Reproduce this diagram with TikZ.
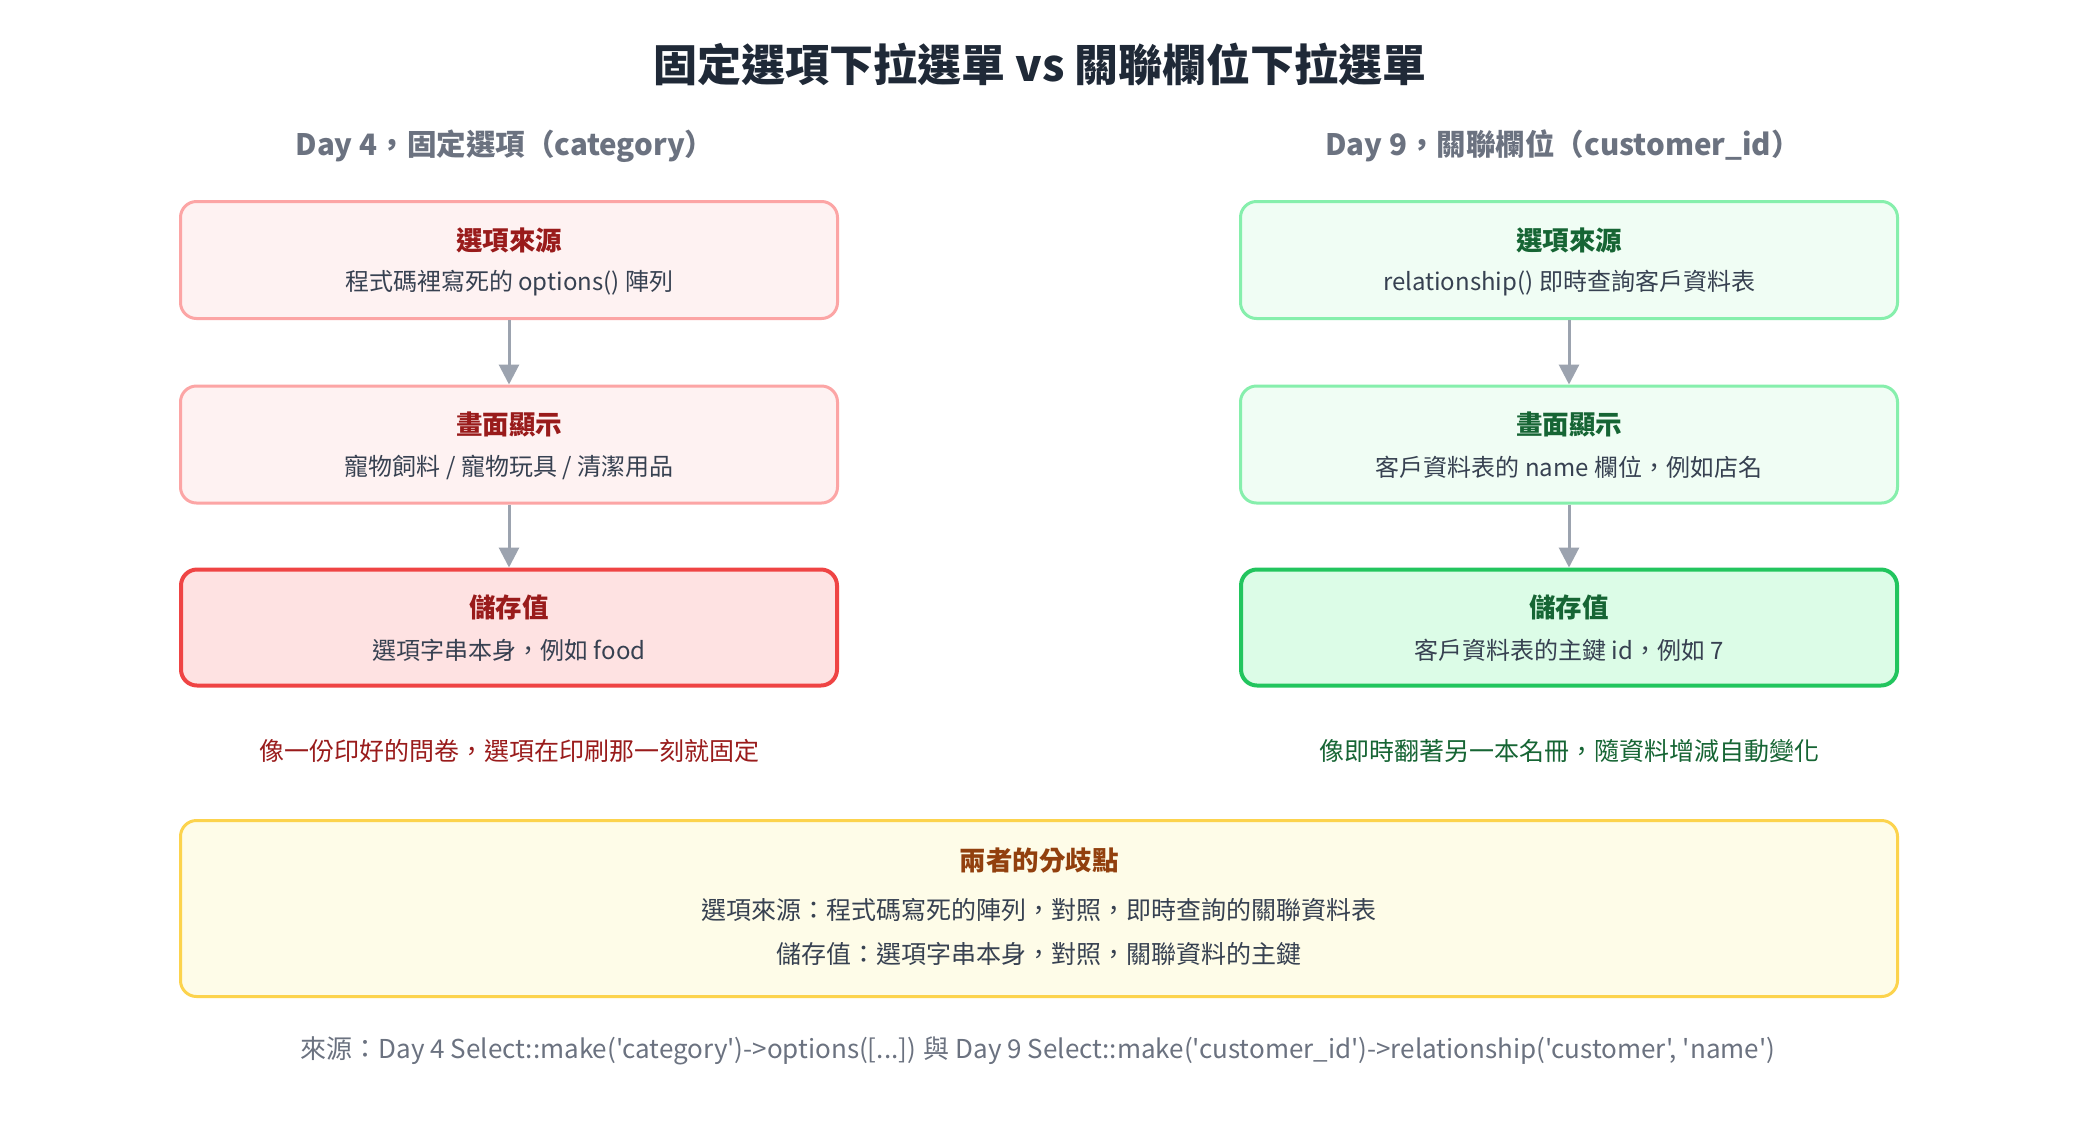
\documentclass[tikz,border=0pt]{standalone}
\usepackage{fontspec}
\setmainfont{Noto Sans CJK TC}
\newfontfamily\plainfont{Noto Sans CJK TC}
\usetikzlibrary{arrows.meta}
\definecolor{titlec}{HTML}{1F2937}
\definecolor{subc}{HTML}{6B7280}
\definecolor{bodyc}{HTML}{374151}
\definecolor{redfill}{HTML}{FEF2F2}
\definecolor{reddraw}{HTML}{FCA5A5}
\definecolor{redfillb}{HTML}{FEE2E2}
\definecolor{reddrawb}{HTML}{EF4444}
\definecolor{redtext}{HTML}{991B1B}
\definecolor{grnfill}{HTML}{F0FDF4}
\definecolor{grndraw}{HTML}{86EFAC}
\definecolor{grnfillb}{HTML}{DCFCE7}
\definecolor{grndrawb}{HTML}{22C55E}
\definecolor{grntext}{HTML}{166534}
\definecolor{yelfill}{HTML}{FEFCE8}
\definecolor{yeldraw}{HTML}{FCD34D}
\definecolor{yeltext}{HTML}{92400E}
\definecolor{arrowc}{HTML}{9CA3AF}
\tikzset{
  box/.style={rectangle, rounded corners=16pt, minimum width=657pt, minimum height=117pt, line width=3pt, inner sep=0pt},
  redbox/.style={box, fill=redfill, draw=reddraw},
  redboxb/.style={box, fill=redfillb, draw=reddrawb, line width=4pt, minimum width=656pt, minimum height=116pt},
  grnbox/.style={box, fill=grnfill, draw=grndraw},
  grnboxb/.style={box, fill=grnfillb, draw=grndrawb, line width=4pt, minimum width=656pt, minimum height=116pt},
  boxtitle/.style={font=\fontsize{26.5}{30}\selectfont\bfseries, inner sep=0pt, anchor=center},
  boxbody/.style={font=\fontsize{24}{28}\selectfont, text=bodyc, inner sep=0pt, anchor=center},
  sumbody/.style={font=\fontsize{25}{28}\selectfont, text=bodyc, inner sep=0pt, anchor=center},
  subtitle/.style={font=\fontsize{29.5}{34}\selectfont\bfseries, text=subc, inner sep=0pt},
  flow/.style={draw=arrowc, line width=3pt, -{Triangle[width=20pt,length=20pt]}},
  caption/.style={font=\fontsize{25}{28}\selectfont, inner sep=0pt},
}
\begin{document}
\begin{tikzpicture}[x=1pt,y=-1pt]
\useasboundingbox[fill=white] (0,0) rectangle (2080,1120);
% title
\node[font=\fontsize{44}{50}\selectfont\bfseries, text=titlec, inner sep=0pt] (title) at (1040,64) {固定選項下拉選單 vs 關聯欄位下拉選單};
\node[subtitle] (subL) at (505,146) {Day 4，固定選項（category）};
\node[subtitle] (subR) at (1563,146) {Day 9，關聯欄位（customer\_id）};
% left column
\node[redbox] (l1) at (509,260) {};
\node[redbox] (l2) at (509,444.5) {};
\node[redboxb] (l3) at (509,627.5) {};
\node[boxtitle, text=redtext] (l1t) at (509,240) {選項來源};
\node[boxbody] (l1b) at (509,283) {程式碼裡寫死的 options() 陣列};
\node[boxtitle, text=redtext] (l2t) at (509,424) {畫面顯示};
\node[boxbody] (l2b) at (509,467) {寵物飼料 / 寵物玩具 / 清潔用品};
\node[boxtitle, text=redtext] (l3t) at (509,607) {儲存值};
\node[boxbody] (l3b) at (509,650) {選項字串本身，例如 food};
\draw[flow] (l1.south) -- (l2.north);
\draw[flow] (l2.south) -- (l3.north);
% right column
\node[grnbox] (r1) at (1569,260) {};
\node[grnbox] (r2) at (1569,444.5) {};
\node[grnboxb] (r3) at (1569,627.5) {};
\node[boxtitle, text=grntext] (r1t) at (1569,240) {選項來源};
\node[boxbody] (r1b) at (1569,283) {relationship() 即時查詢客戶資料表};
\node[boxtitle, text=grntext] (r2t) at (1569,424) {畫面顯示};
\node[boxbody] (r2b) at (1569,467) {客戶資料表的 name 欄位，例如店名};
\node[boxtitle, text=grntext] (r3t) at (1569,607) {儲存值};
\node[boxbody] (r3b) at (1569,650) {客戶資料表的主鍵 id，例如 7};
\draw[flow] (r1.south) -- (r2.north);
\draw[flow] (r2.south) -- (r3.north);
% captions
\node[caption, text=redtext] (capL) at (509,751) {像一份印好的問卷，選項在印刷那一刻就固定};
\node[caption, text=grntext] (capR) at (1569,751) {像即時翻著另一本名冊，隨資料增減自動變化};
% bottom box
\node[box, fill=yelfill, draw=yeldraw, minimum width=1717pt, minimum height=176pt] (sum) at (1039,908.5) {};
\node[boxtitle, text=yeltext] (sumt) at (1039,861) {兩者的分歧點};
\node[sumbody] (sum1) at (1039,910) {選項來源：程式碼寫死的陣列，對照，即時查詢的關聯資料表};
\node[sumbody] (sum2) at (1039,954) {儲存值：選項字串本身，對照，關聯資料的主鍵};
% footer
\node[font=\plainfont\fontsize{26}{30}\selectfont, text=subc, inner sep=0pt] (foot) at (1038,1051) {來源：Day 4 Select::make('category')->options([...]) 與 Day 9 Select::make('customer\_id')->relationship('customer', 'name')};
\end{tikzpicture}
\end{document}
